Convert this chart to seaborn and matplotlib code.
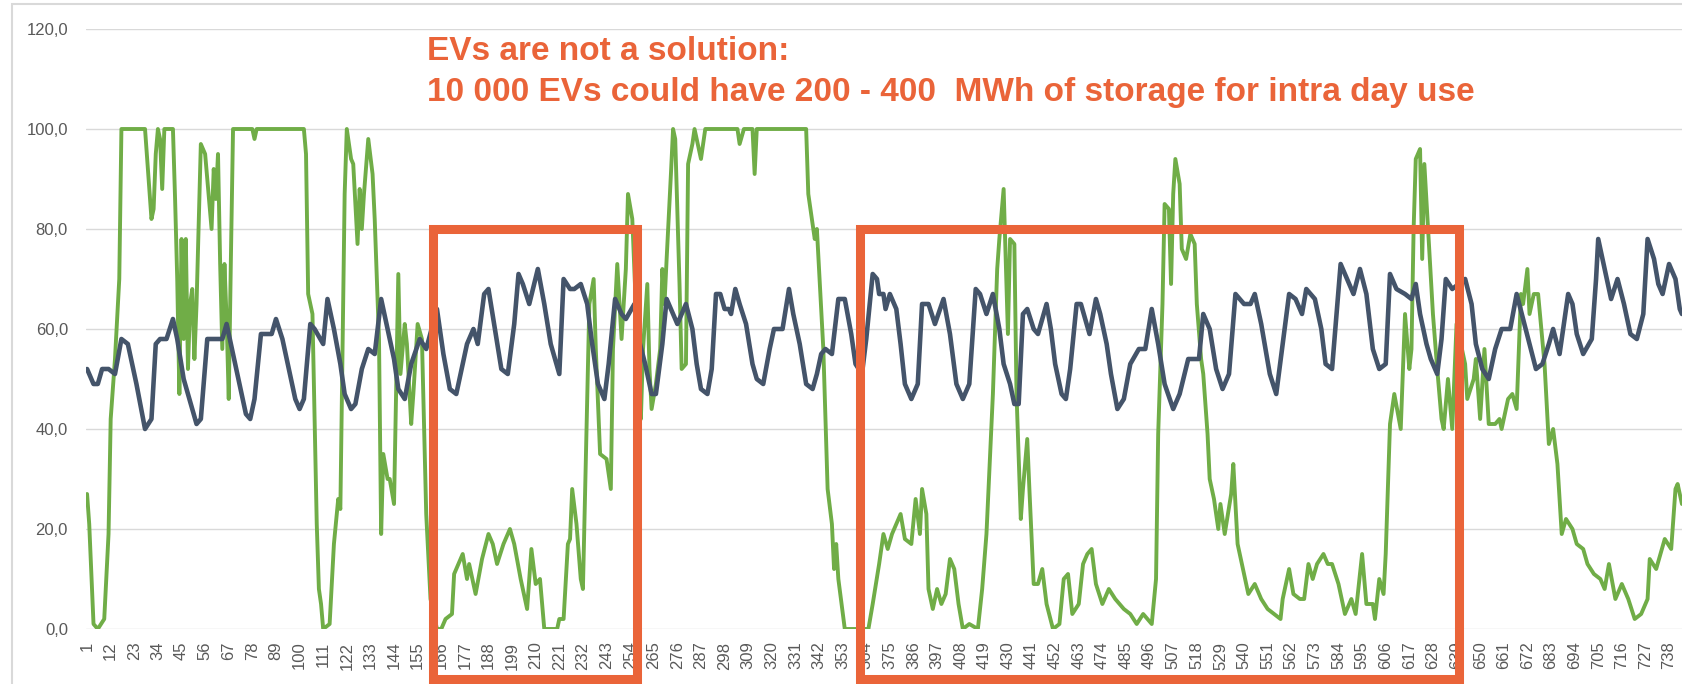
import numpy as np
import pandas as pd
import matplotlib.pyplot as plt
import seaborn as sns
from matplotlib.patches import Rectangle
from matplotlib.ticker import FuncFormatter

sns.set_style("white")
plt.rcParams['font.family'] = ['Liberation Sans', 'DejaVu Sans']

# ---- data (hour of month, value) ----
green_hours = [1, 2, 4, 6, 9, 11, 12, 14, 16, 17, 28, 30, 31, 32, 33, 34, 35, 36, 37, 41,
               42, 43, 44, 45, 46, 47, 48, 49, 50, 51, 52, 54, 56, 57, 59, 60, 61, 62, 63, 64,
               65, 66, 67, 68, 69, 78, 79, 80, 102, 103, 104, 106, 108, 109, 110, 111, 114, 116, 118, 119,
               121, 122, 124, 125, 127, 128, 129, 130, 132, 134, 135, 137, 138, 139, 141, 142, 144, 146, 147, 149,
               150, 152, 153, 155, 157, 159, 161, 164, 166, 168, 171, 172, 174, 176, 178, 179, 182, 185, 188, 190,
               192, 195, 198, 200, 203, 206, 208, 210, 212, 214, 220, 221, 223, 225, 226, 227, 229, 231, 232, 234,
               235, 237, 238, 240, 243, 245, 246, 248, 250, 252, 253, 255, 257, 258, 259, 260, 262, 263, 264, 266,
               268, 269, 270, 271, 273, 274, 275, 277, 278, 280, 281, 283, 284, 287, 289, 304, 305, 307, 311, 312,
               313, 336, 337, 338, 340, 341, 344, 346, 348, 349, 350, 351, 354, 365, 367, 370, 372, 374, 376, 380,
               382, 385, 387, 389, 390, 392, 393, 395, 397, 399, 401, 403, 405, 407, 409, 412, 416, 418, 420, 423,
               425, 426, 428, 430, 431, 433, 434, 436, 437, 439, 440, 442, 444, 446, 448, 451, 454, 456, 458, 460,
               463, 465, 467, 469, 471, 474, 477, 480, 482, 484, 487, 490, 493, 495, 497, 499, 500, 502, 503, 505,
               506, 507, 508, 510, 511, 513, 515, 517, 518, 520, 521, 523, 524, 526, 528, 529, 531, 534, 535, 537,
               540, 542, 545, 548, 551, 554, 557, 558, 561, 563, 566, 568, 570, 572, 574, 577, 579, 581, 584, 587,
               590, 592, 595, 597, 600, 601, 603, 605, 606, 608, 610, 613, 615, 617, 618, 619, 620, 622, 623, 624,
               626, 628, 630, 632, 633, 635, 637, 639, 643, 644, 647, 648, 650, 652, 654, 657, 659, 660, 663, 665,
               667, 669, 670, 672, 673, 675, 677, 680, 682, 684, 686, 688, 690, 693, 695, 698, 700, 703, 706, 708,
               710, 713, 716, 719, 722, 725, 728, 729, 732, 734, 736, 739, 741, 742, 744]
green_vals = [27, 21, 1, 0, 2, 19, 42, 54, 70, 100, 100, 88, 82, 84, 95, 100, 98, 88, 100, 100,
              86, 70, 47, 78, 58, 78, 52, 65, 68, 54, 65, 97, 95, 90, 80, 92, 86, 95, 73, 56,
              73, 62, 46, 74, 100, 100, 98, 100, 100, 95, 67, 63, 21, 8, 5, 0, 1, 17, 26, 24,
              87, 100, 94, 93, 77, 88, 80, 87, 98, 91, 82, 58, 19, 35, 30, 30, 25, 71, 51, 61,
              57, 41, 47, 61, 58, 23, 6, 0, 0, 2, 3, 11, 13, 15, 10, 13, 7, 14, 19, 17,
              13, 17, 20, 17, 10, 4, 16, 9, 10, 0, 0, 2, 2, 17, 18, 28, 21, 10, 8, 46,
              65, 70, 56, 35, 34, 28, 56, 73, 58, 72, 87, 82, 61, 47, 42, 56, 69, 52, 44, 49,
              56, 72, 65, 74, 91, 100, 98, 69, 52, 53, 93, 97, 100, 94, 100, 100, 97, 100, 100, 91,
              100, 100, 87, 84, 78, 80, 56, 28, 21, 12, 17, 10, 0, 0, 5, 13, 19, 16, 19, 23,
              18, 17, 26, 19, 28, 23, 8, 4, 8, 5, 7, 14, 12, 5, 0, 1, 0, 8, 19, 47,
              72, 78, 88, 59, 78, 77, 47, 22, 28, 38, 28, 9, 9, 12, 5, 0, 1, 10, 11, 3,
              5, 13, 15, 16, 9, 5, 8, 6, 5, 4, 3, 1, 3, 2, 1, 10, 39, 65, 85, 84,
              69, 87, 94, 89, 76, 74, 79, 77, 65, 54, 51, 39, 30, 26, 20, 25, 19, 27, 33, 17,
              11, 7, 9, 6, 4, 3, 2, 6, 12, 7, 6, 6, 13, 10, 13, 15, 13, 13, 9, 3,
              6, 3, 15, 5, 5, 2, 10, 7, 15, 41, 47, 40, 63, 52, 56, 80, 94, 96, 74, 93,
              78, 63, 52, 42, 40, 50, 40, 61, 53, 46, 50, 54, 42, 56, 41, 41, 42, 40, 46, 47,
              44, 67, 65, 72, 63, 67, 67, 53, 37, 40, 33, 19, 22, 20, 17, 16, 13, 11, 10, 8,
              13, 6, 9, 6, 2, 3, 6, 14, 12, 15, 18, 16, 28, 29, 25]

load_hours = [1, 4, 6, 8, 11, 14, 17, 20, 24, 28, 31, 33, 35, 38, 41, 43, 46, 50, 52, 54,
              57, 61, 64, 66, 69, 72, 75, 77, 79, 82, 85, 87, 89, 92, 95, 98, 100, 102, 105, 107,
              111, 113, 116, 119, 121, 124, 126, 129, 132, 135, 138, 141, 144, 146, 149, 152, 156, 159, 164, 167,
              170, 173, 176, 178, 181, 183, 186, 188, 191, 194, 197, 200, 202, 204, 207, 211, 214, 217, 221, 223,
              226, 228, 231, 234, 236, 239, 242, 244, 247, 250, 252, 256, 258, 261, 264, 266, 269, 271, 274, 276,
              278, 280, 283, 285, 287, 290, 292, 294, 296, 298, 300, 301, 303, 305, 308, 311, 313, 316, 319, 321,
              323, 325, 328, 330, 333, 336, 339, 341, 343, 345, 348, 351, 354, 357, 359, 362, 364, 367, 369, 370,
              372, 373, 375, 378, 380, 382, 385, 388, 390, 393, 396, 400, 403, 406, 409, 412, 415, 417, 420, 423,
              426, 428, 431, 433, 435, 437, 439, 442, 444, 448, 450, 452, 455, 457, 459, 462, 464, 468, 471, 473,
              476, 478, 481, 484, 487, 491, 494, 497, 500, 503, 507, 510, 514, 519, 521, 524, 527, 530, 533, 536,
              540, 543, 545, 548, 552, 555, 558, 561, 564, 567, 569, 573, 576, 578, 581, 585, 588, 591, 594, 597,
              600, 603, 606, 608, 611, 615, 618, 620, 622, 625, 627, 630, 632, 634, 637, 640, 643, 646, 648, 651,
              654, 657, 660, 664, 667, 670, 673, 676, 679, 682, 684, 687, 691, 693, 695, 698, 702, 704, 705, 708,
              711, 714, 717, 720, 723, 726, 728, 731, 733, 735, 738, 741, 743, 744]
load_vals = [52, 49, 49, 52, 52, 51, 58, 57, 49, 40, 42, 57, 58, 58, 62, 58, 50, 44, 41, 42,
             58, 58, 58, 61, 55, 49, 43, 42, 46, 59, 59, 59, 62, 58, 52, 46, 44, 46, 61, 60,
             57, 66, 60, 53, 47, 44, 45, 52, 56, 55, 66, 60, 54, 48, 46, 53, 58, 56, 64, 55,
             48, 47, 53, 57, 60, 57, 67, 68, 60, 52, 51, 61, 71, 69, 65, 72, 65, 57, 51, 70,
             68, 68, 69, 65, 58, 49, 46, 53, 66, 63, 62, 65, 58, 53, 47, 47, 57, 66, 63, 61,
             63, 65, 60, 53, 48, 47, 52, 67, 67, 64, 64, 63, 68, 65, 61, 53, 50, 49, 56, 60,
             60, 60, 68, 63, 57, 49, 48, 51, 55, 56, 55, 66, 66, 59, 53, 51, 58, 71, 70, 67,
             67, 64, 67, 64, 57, 49, 46, 49, 65, 65, 61, 66, 59, 49, 46, 49, 68, 67, 63, 67,
             60, 53, 49, 45, 45, 63, 64, 60, 59, 65, 60, 53, 47, 46, 52, 65, 65, 59, 66, 63,
             57, 51, 44, 46, 53, 56, 56, 64, 57, 49, 44, 47, 54, 54, 63, 60, 52, 48, 51, 67,
             65, 65, 67, 61, 51, 47, 57, 67, 66, 63, 68, 66, 60, 53, 52, 73, 70, 67, 72, 67,
             56, 52, 53, 71, 68, 67, 66, 69, 63, 57, 54, 51, 58, 70, 68, 69, 70, 65, 57, 52,
             50, 56, 60, 60, 67, 62, 57, 52, 53, 57, 60, 55, 67, 65, 59, 55, 58, 70, 78, 72,
             66, 70, 65, 59, 58, 63, 78, 74, 69, 67, 73, 70, 64, 63]

x_ticks = list(range(1, 745, 11))
y_ticks = [0, 20, 40, 60, 80, 100, 120]
note_lines = ["EVs are not a solution:",
              "10 000 EVs could have 200 - 400  MWh of storage for intra day use"]
box_spans = [(162, 257), (361, 640)]

green_df = pd.DataFrame({"hour": green_hours, "value": green_vals})
load_df = pd.DataFrame({"hour": load_hours, "value": load_vals})

GREEN = "#70AD47"
NAVY = "#44546A"
ORANGE = "#EA6439"
GREY = "#595959"

fig = plt.figure(figsize=(16.83, 6.84), dpi=100)
ax = fig.add_axes([86 / 1683, 55 / 684, 1597 / 1683, 600 / 684])

sns.lineplot(data=green_df, x="hour", y="value", color=GREEN, linewidth=2.8, ax=ax, zorder=3)
sns.lineplot(data=load_df, x="hour", y="value", color=NAVY, linewidth=3.3, ax=ax, zorder=4)

ax.set_xlim(0.5, 744.5)
ax.set_ylim(0, 120)
ax.set_xticks(x_ticks)
ax.set_xticklabels([str(t) for t in x_ticks], rotation=90, fontsize=12, color=GREY)
ax.set_yticks(y_ticks)
ax.yaxis.set_major_formatter(FuncFormatter(lambda v, p: f"{v:.1f}".replace(".", ",")))
ax.tick_params(axis="y", labelsize=12, labelcolor=GREY, length=0, pad=13)
ax.tick_params(axis="x", length=0, pad=9)
ax.set_xlabel("")
ax.set_ylabel("")
ax.grid(axis="y", color="#D9D9D9", linewidth=1)
ax.grid(axis="x", visible=False)
for s in ax.spines.values():
    s.set_visible(False)

# highlighted periods
for x0, x1 in box_spans:
    ax.add_patch(Rectangle((x0, -10), x1 - x0, 90, fill=False, edgecolor=ORANGE,
                           linewidth=6.5, clip_on=False, zorder=6))

# annotation
ax.text(159.5, 113.8, note_lines[0], color=ORANGE, fontsize=24, fontweight="bold", va="baseline")
ax.text(159.5, 105.6, note_lines[1], color=ORANGE, fontsize=24, fontweight="bold", va="baseline")

# chart frame (left/top edges visible)
fig.patches.append(Rectangle((12 / 1683, -0.5), 2, 1.5 - 4 / 684, transform=fig.transFigure,
                             fill=False, edgecolor="#D9D9D9", linewidth=1.5))

fig.savefig("out.png", dpi=100)
